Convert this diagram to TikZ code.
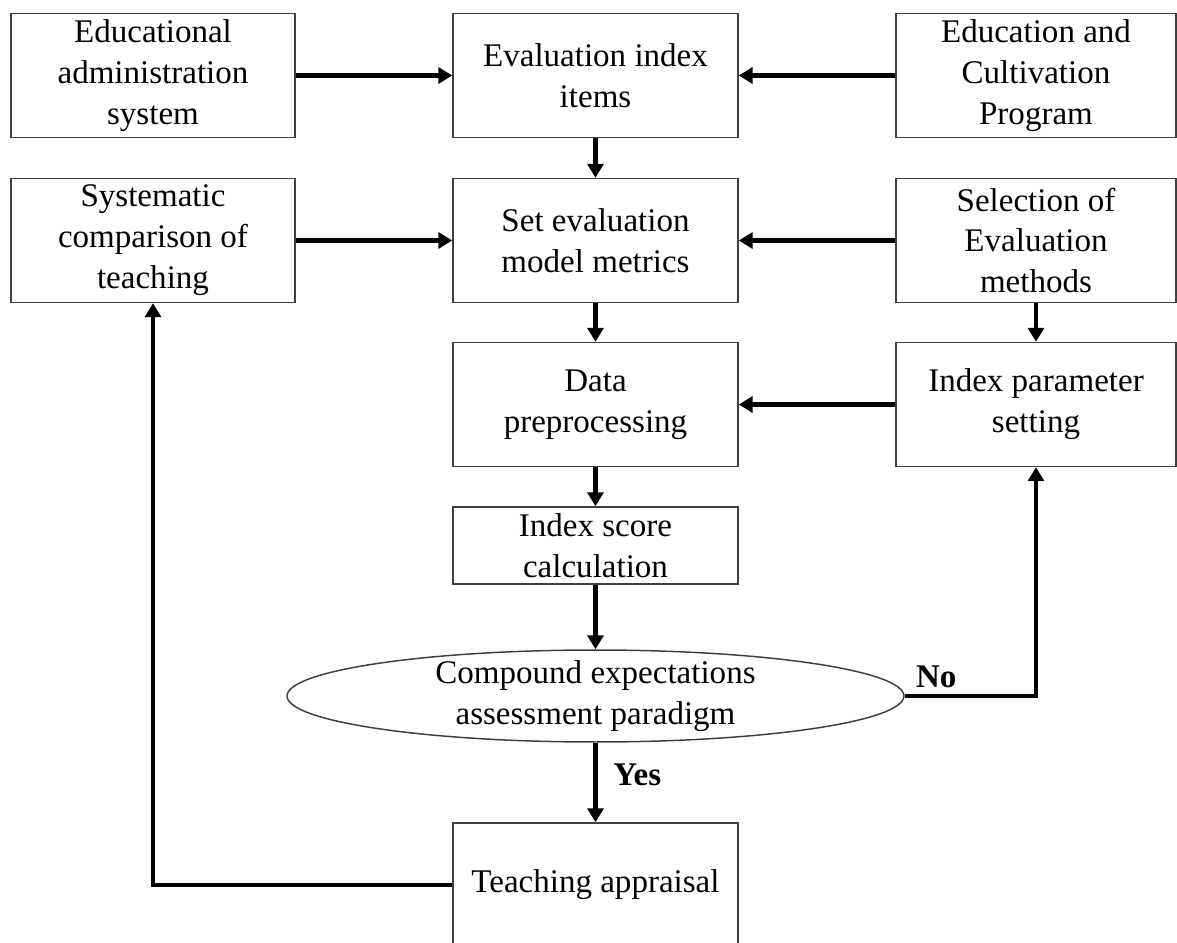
\documentclass[tikz,border=0pt]{standalone}
\usepackage{fontspec}
\setmainfont{Liberation Serif}
\usetikzlibrary{arrows.meta,shapes.geometric}

\tikzset{
    box/.style={draw=black!75, line width=0.85pt, align=center, inner sep=0pt},
    leftcol/.style={box, minimum width=5.68cm, minimum height=2.48cm},
    midcol/.style={box, minimum width=5.7cm, minimum height=2.48cm},
    rightcol/.style={box, minimum width=5.6cm, minimum height=2.48cm},
    flow/.style={line width=2.4pt, -{Triangle[length=0.28cm,width=0.32cm]}},
    answer/.style={font=\fontsize{18.8}{23.3}\selectfont\bfseries},
}

\begin{document}
\begin{tikzpicture}[x=0.02cm, y=-0.02cm, font=\fontsize{18.8}{23.3}\selectfont]
    \useasboundingbox (0,0) rectangle (1177,943);
    \clip (0,0) rectangle (1177,943);

    % left column
    \node[leftcol] (admin) at (153,75.5) {Educational\\administration\\system};
    \node[leftcol] (syst) at (153,240.5) {Systematic\\comparison of\\teaching};

    % middle column
    \node[midcol] (items) at (595.5,75.5) {Evaluation index\\items};
    \node[midcol] (metr) at (595.5,240.5) {Set evaluation\\model metrics};
    \node[midcol] (data) at (595.5,404.5) {Data\\preprocessing};
    \node[midcol, minimum height=1.54cm] (score) at (595.5,545.5) {Index score\\calculation};

    % right column
    \node[rightcol] (prog) at (1036,75.5) {Education and\\Cultivation\\Program};
    \node[rightcol] (sele) at (1036,240.5) {Selection of\\Evaluation\\methods};
    \node[rightcol] (param) at (1036,404.5) {Index parameter\\setting};

    % decision
    \node[ellipse, draw=black!75, line width=0.85pt, minimum width=12.34cm, minimum height=1.84cm, inner sep=0pt] (expec) at (595.5,696) {};
    \node[align=center] (expectxt) at (expec) {Compound expectations\\assessment paradigm};

    % result
    \node[midcol, minimum height=2.48cm] (appr) at (595.5,885) {Teaching appraisal};

    % arrows into the middle column
    \draw[flow] (admin) -- (items);
    \draw[flow] (prog) -- (items);
    \draw[flow] (syst) -- (metr);
    \draw[flow] (sele) -- (metr);
    \draw[flow] (param) -- (data);

    % main flow
    \draw[flow] (items) -- (metr);
    \draw[flow] (metr) -- (data);
    \draw[flow] (data) -- (score);
    \draw[flow] (score) -- (expec);
    \draw[flow] (sele) -- (param);

    % branches
    \draw[flow] (expec.east) -| node[answer, pos=0.12, above] {No} (param.south);
    \draw[flow] (expec.south) -- node[answer, midway, right=0.2cm, yshift=0.15cm] {Yes} (appr.north);

    % feedback loop
    \draw[flow] (appr.west) -| (syst.south);
\end{tikzpicture}
\end{document}
